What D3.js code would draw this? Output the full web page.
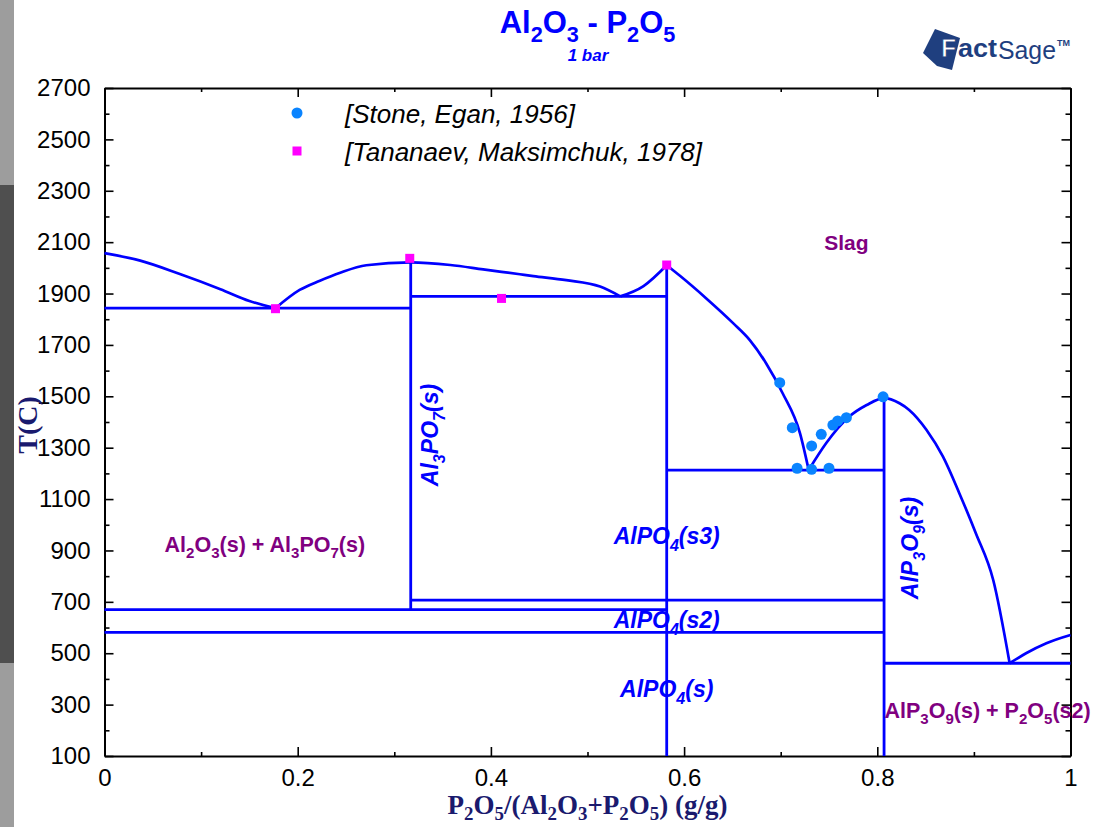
<!DOCTYPE html>
<html><head><meta charset="utf-8">
<script src="https://cdn.jsdelivr.net/npm/d3@7"></script>
<style>body{margin:0;background:#fff;}svg{display:block;}</style>
</head><body>
<svg id="chart" width="1093" height="827"></svg>
<script>
// ---------------- DATA ----------------
const xTickValues = [0,0.1,0.2,0.3,0.4,0.5,0.6,0.7,0.8,0.9,1];
const xTickLabels = ["0","","0.2","","0.4","","0.6","","0.8","","1"];
const yTickValues = [100,200,300,400,500,600,700,800,900,1000,1100,1200,1300,1400,1500,1600,1700,1800,1900,2000,2100,2200,2300,2400,2500,2600,2700];
const yTickLabels = ["100","","300","","500","","700","","900","","1100","","1300","","1500","","1700","","1900","","2100","","2300","","2500","","2700"];

// liquidus branches [x, T]
const liqAl2O3 = [[0,2057],[0.037,2028],[0.078,1976],[0.12,1917],[0.15,1871],[0.177,1843]];
const liqAl3PO7 = [[0.177,1843],[0.202,1914],[0.223,1950],[0.244,1981],[0.271,2010],[0.317,2021],[0.358,2011],[0.392,1994],[0.43,1975],[0.444,1968],[0.478,1952],[0.513,1927],[0.534,1889]];
const liqAlPO4a = [[0.534,1889],[0.558,1929],[0.582,2010]];
const liqAlPO4b = [[0.582,2010],[0.596,1968],[0.623,1881],[0.651,1784],[0.668,1719],[0.685,1628],[0.702,1512],[0.72,1356],[0.729,1213]];
const liqAlP3O9 = [[0.729,1213],[0.747,1317],[0.771,1421],[0.789,1466],[0.807,1493],[0.823,1473],[0.833,1447],[0.851,1369],[0.868,1265],[0.885,1122],[0.902,967],[0.92,785],[0.937,461]];
const liqP2O5 = [[0.937,461],[0.954,500],[0.975,539],[1,571]];

// isotherms [x1, x2, T]
const isotherms = [[0,0.317,1843],[0.317,0.582,1889],[0.582,0.807,1213],[0.317,0.807,707],[0,0.582,670],[0,0.807,581],[0.807,1,461]];
// compound lines [x, Tlow, Thigh]
const compounds = [[0.317,670,2021],[0.582,100,2010],[0.807,100,1493]];

// experimental points [x, T]
const stoneEgan = [[0.699,1553],[0.712,1378],[0.717,1220],[0.732,1216],[0.732,1307],[0.742,1352],[0.750,1220],[0.754,1388],[0.759,1404],[0.768,1417],[0.806,1498]];
const tananaev = [[0.177,1841],[0.316,2037],[0.411,1881],[0.582,2011]];

const legendNames = ["[Stone, Egan, 1956]","[Tananaev, Maksimchuk, 1978]"];
const titleText = "Al_2O_3 - P_2O_5";
const subtitleText = "1 bar";
const xTitleText = "P_2O_5/(Al_2O_3+P_2O_5) (g/g)";
const yTitleText = "T(C)";
const phaseLabels = ["Slag","Al_2O_3(s) + Al_3PO_7(s)","Al_3PO_7(s)","AlPO_4(s3)","AlPO_4(s2)","AlPO_4(s)","AlP_3O_9(s)","AlP_3O_9(s) + P_2O_5(s2)"];

// ---------------- DRAW ----------------
const svg = d3.select("#chart");
const x = d3.scaleLinear().domain([0,1]).range([104.5,1070.5]);
const y = d3.scaleLinear().domain([100,2700]).range([756,88]);
const SANS = "'Liberation Sans', Arial, sans-serif";
const SERIF = "'Liberation Serif', 'Times New Roman', serif";
const BLUE = "#0000ff", PURPLE = "#800080", NAVY = "#1a1a6e";

// left gray strip
svg.append("rect").attr("x",0).attr("y",0).attr("width",14).attr("height",827).attr("fill","#9d9d9d");
svg.append("rect").attr("x",0).attr("y",185).attr("width",14).attr("height",478).attr("fill","#4f4f4f");

function rich(t, str, fs, subScale=0.7, shift=0.3){
  const tokens = str.match(/_.|[^_]+/g);
  let down = false;
  tokens.forEach(tok=>{
    if(tok[0]==="_"){
      t.append("tspan").attr("font-size",fs*subScale).attr("dy",down?0:fs*shift).text(tok[1]);
      down = true;
    } else {
      t.append("tspan").attr("font-size",fs).attr("dy",down?-fs*shift:0).text(tok);
      down = false;
    }
  });
  return t;
}
function label(str, px, py, opts){
  const g = svg.append("g").attr("transform",`translate(${px},${py}) rotate(${opts.rot||0})`);
  const t = g.append("text").attr("text-anchor",opts.anchor||"middle")
    .attr("font-family",opts.family||SANS).attr("font-weight",opts.weight||"bold")
    .attr("font-style",opts.style||"normal").attr("fill",opts.fill).attr("font-size",opts.fs);
  rich(t, str, opts.fs, opts.subScale||0.7, opts.shift||0.3);
  return t;
}

// axes
function styleAxis(g){
  g.select(".domain").attr("stroke","#000").attr("stroke-width",2);
  g.selectAll(".tick line").attr("stroke","#000").attr("stroke-width",1.6);
  g.selectAll(".tick text").attr("font-family",SANS).attr("font-size",24).attr("fill","#000");
}
const gB = svg.append("g").attr("transform","translate(0,756)")
  .call(d3.axisBottom(x).tickValues(xTickValues).tickSize(-9).tickSizeOuter(0).tickPadding(13).tickFormat((d,i)=>xTickLabels[i]));
styleAxis(gB);
gB.selectAll(".tick line").filter((d,i)=>xTickLabels[i]==="").attr("y2",-4);
const gT = svg.append("g").attr("transform","translate(0,88)")
  .call(d3.axisTop(x).tickValues(xTickValues).tickSize(-9).tickSizeOuter(0).tickFormat(""));
styleAxis(gT);
gT.selectAll(".tick line").filter((d,i)=>xTickLabels[i]==="").attr("y2",4);
const gL = svg.append("g").attr("transform","translate(104.5,0)")
  .call(d3.axisLeft(y).tickValues(yTickValues).tickSize(-9).tickSizeOuter(0).tickPadding(14).tickFormat((d,i)=>yTickLabels[i]));
styleAxis(gL);
gL.selectAll(".tick line").filter((d,i)=>yTickLabels[i]==="").attr("x2",5);
const gR = svg.append("g").attr("transform","translate(1070.5,0)")
  .call(d3.axisRight(y).tickValues(yTickValues).tickSize(-9).tickSizeOuter(0).tickFormat(""));
styleAxis(gR);
gR.selectAll(".tick line").filter((d,i)=>yTickLabels[i]==="").attr("x2",-5);

// diagram lines
const plot = svg.append("g");
const line = d3.line().x(d=>x(d[0])).y(d=>y(d[1])).curve(d3.curveMonotoneX);
[liqAl2O3,liqAl3PO7,liqAlPO4a,liqAlPO4b,liqAlP3O9,liqP2O5].forEach(arr=>{
  plot.append("path").attr("d",line(arr)).attr("fill","none").attr("stroke",BLUE).attr("stroke-width",2.7).attr("stroke-linejoin","round");
});
isotherms.forEach(d=>{
  plot.append("line").attr("x1",x(d[0])).attr("x2",x(d[1])).attr("y1",y(d[2])).attr("y2",y(d[2]))
    .attr("stroke",BLUE).attr("stroke-width",2.8);
});
compounds.forEach(d=>{
  plot.append("line").attr("x1",x(d[0])).attr("x2",x(d[0])).attr("y1",y(d[1])).attr("y2",y(d[2]))
    .attr("stroke",BLUE).attr("stroke-width",2.8);
});

// points
plot.selectAll("circle.se").data(stoneEgan).enter().append("circle")
  .attr("cx",d=>x(d[0])).attr("cy",d=>y(d[1])).attr("r",5.5).attr("fill","#0a84ff");
plot.selectAll("rect.tn").data(tananaev).enter().append("rect")
  .attr("x",d=>x(d[0])-4.5).attr("y",d=>y(d[1])-4.5).attr("width",9).attr("height",9).attr("fill","#ff00ff");

// legend
svg.append("circle").attr("cx",297).attr("cy",113).attr("r",5.5).attr("fill","#0a84ff");
svg.append("rect").attr("x",292.5).attr("y",146.5).attr("width",9).attr("height",9).attr("fill","#ff00ff");
svg.append("text").attr("x",345).attr("y",123).attr("font-family",SANS).attr("font-style","italic").attr("font-size",26).text(legendNames[0]);
svg.append("text").attr("x",345).attr("y",161).attr("font-family",SANS).attr("font-style","italic").attr("font-size",26).text(legendNames[1]);

// phase labels
label(phaseLabels[0], x(0.768), y(2069), {fs:21, fill:PURPLE});
label(phaseLabels[1], x(0.166), y(894), {fs:21.5, fill:PURPLE});
label(phaseLabels[2], 438, 435, {fs:23, fill:BLUE, style:"italic", rot:-90});
label(phaseLabels[3], x(0.582), y(925), {fs:23, fill:BLUE, style:"italic"});
label(phaseLabels[4], x(0.582), y(598), {fs:23, fill:BLUE, style:"italic"});
label(phaseLabels[5], x(0.582), y(330), {fs:23, fill:BLUE, style:"italic"});
label(phaseLabels[6], 918, 548, {fs:23, fill:BLUE, style:"italic", rot:-90});
label(phaseLabels[7], x(0.8074), y(248), {fs:21.5, fill:PURPLE, anchor:"start"});

// titles
label(titleText, 587.5, 33, {fs:31, fill:BLUE});
label(subtitleText, 588, 61, {fs:17, fill:BLUE, style:"italic"});
label(xTitleText, 587.5, 814, {fs:27, fill:NAVY, family:SERIF, shift:0.22});
label(yTitleText, 37, 425, {fs:28, fill:NAVY, family:SERIF, rot:-90});

// FactSage logo
const logo = svg.append("g");
logo.append("path").attr("d","M923,53 L935,29 L960,38 L952,70 L937,66 Z").attr("fill","#1f3f7f");
logo.append("text").attr("x",941).attr("y",57).attr("font-family",SANS).attr("font-weight","bold").attr("font-size",25).attr("fill","#fff").attr("stroke","#1f3f7f").attr("stroke-width",1).text("F");
logo.append("text").attr("x",958).attr("y",57).attr("font-family",SANS).attr("font-weight","bold").attr("font-size",26).attr("textLength",39).attr("lengthAdjust","spacingAndGlyphs").attr("fill","#1f3f7f").text("act");
logo.append("text").attr("x",998).attr("y",59).attr("font-family","'Liberation Sans Narrow', 'Liberation Sans', sans-serif").attr("font-size",26).attr("textLength",58).attr("lengthAdjust","spacingAndGlyphs").attr("fill","#1f3f7f").text("Sage");
logo.append("text").attr("x",1057).attr("y",46).attr("font-family",SANS).attr("font-weight","bold").attr("font-size",9).attr("fill","#1f3f7f").text("TM");
</script>
</body></html>
